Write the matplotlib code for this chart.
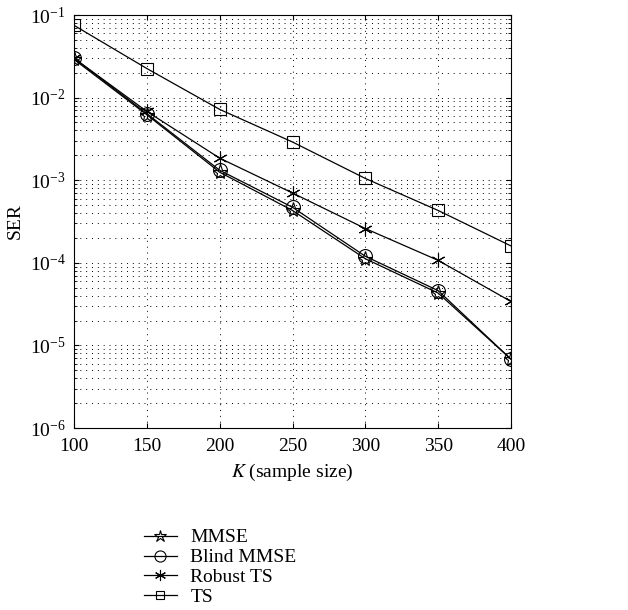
import numpy as np
import matplotlib.pyplot as plt

plt.rcParams['font.family'] = ['Liberation Serif', 'DejaVu Serif']
plt.rcParams['mathtext.fontset'] = 'stix'

K = [100, 150, 200, 250, 300, 350, 400]
mmse = [2.9e-2, 6.2e-3, 1.25e-3, 4.3e-4, 1.12e-4, 4.3e-5, 6.8e-6]
blind_mmse = [3.0e-2, 6.4e-3, 1.32e-3, 4.7e-4, 1.2e-4, 4.6e-5, 6.8e-6]
robust_ts = [3.0e-2, 6.8e-3, 1.85e-3, 7.0e-4, 2.6e-4, 1.07e-4, 3.4e-5]
ts = [7.5e-2, 2.25e-2, 7.2e-3, 2.9e-3, 1.05e-3, 4.3e-4, 1.6e-4]

fig = plt.figure(figsize=(6.28, 6.10), dpi=100)
ax = fig.add_axes([74/628, 1-428/610, (511-74)/628, (428-15)/610])

ax.semilogy(K, mmse, 'k-', marker='*', ms=11, mfc='none', mew=0.8, lw=0.9, label='MMSE')
ax.semilogy(K, blind_mmse, 'k-', marker='o', ms=10, mfc='none', mew=0.8, lw=0.9, label='Blind MMSE')
ax.semilogy(K, robust_ts, 'k-', marker=(6, 2, 0), ms=10, mew=0.8, lw=0.9, label='Robust TS')
ax.semilogy(K, ts, 'k-', marker='s', ms=8, mfc='none', mew=0.8, lw=0.9, label='TS')

ax.set_xlim(100, 400)
ax.set_ylim(1e-6, 1e-1)
ax.set_xticks(K)
dots = (0, (1, 5))
ax.grid(True, which='major', ls=dots, color='k', lw=0.7)
ax.grid(True, which='minor', axis='y', ls=dots, color='k', lw=0.7)
ax.tick_params(which='both', direction='in', top=True, right=True, labelsize=14)
ax.tick_params(axis='y', pad=6)
ax.tick_params(axis='x', pad=7)
ax.set_xlabel('$K$ (sample size)', fontsize=14, labelpad=5)
ax.set_ylabel('SER', fontsize=14, labelpad=4)

fig.legend(loc='upper left', bbox_to_anchor=(136/628, 1-521/610), frameon=False,
           fontsize=14, handlelength=1.7, handletextpad=0.7, labelspacing=0.12,
           markerscale=0.8, borderaxespad=0)

fig.savefig('out.png', dpi=100)
